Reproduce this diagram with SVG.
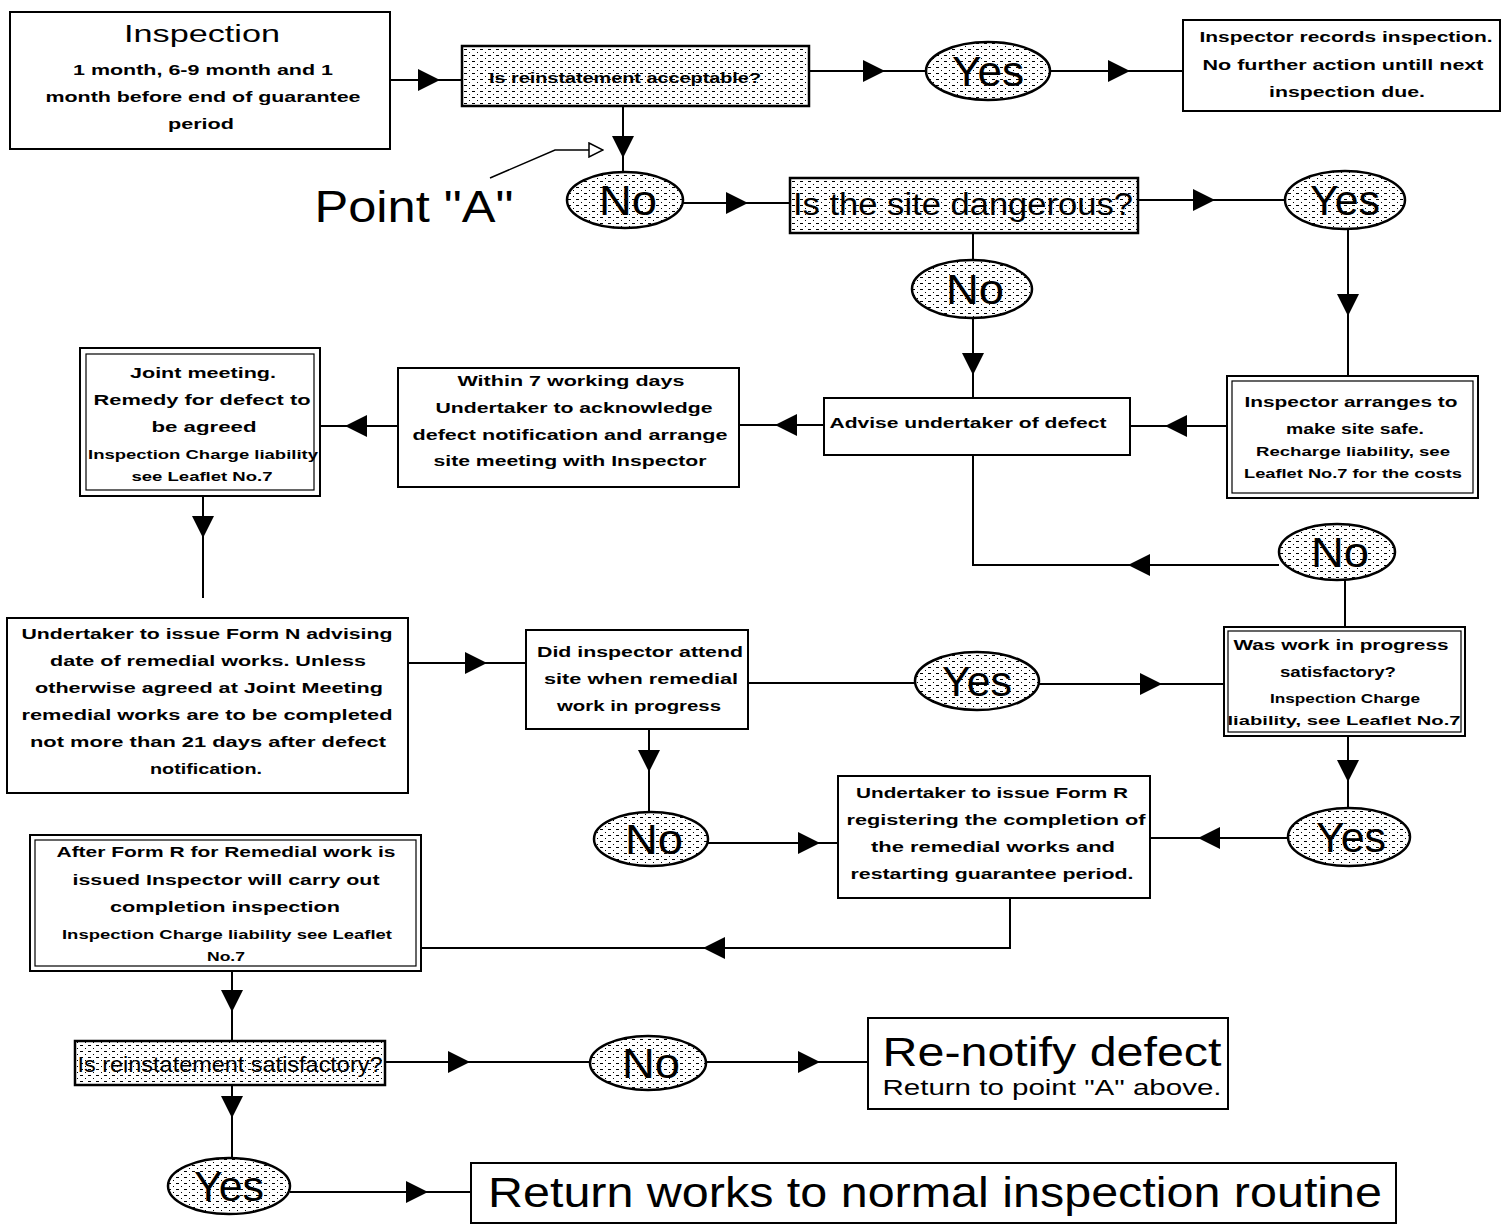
<svg xmlns="http://www.w3.org/2000/svg" width="1510" height="1226" viewBox="0 0 1510 1226">
<style>
.box{fill:#fff;stroke:#000;stroke-width:2}
.inner{fill:none;stroke:#000;stroke-width:1.2}
.dec{fill:url(#dots);stroke:#000;stroke-width:2.5}
.oval{fill:url(#dots);stroke:#000;stroke-width:2.5}
.ln{fill:none;stroke:#000;stroke-width:2}
.t{font-family:"Liberation Sans",Arial,sans-serif;font-weight:bold;font-size:15px;fill:#000;text-anchor:middle}
.s{font-family:"Liberation Sans",Arial,sans-serif;font-weight:bold;font-size:12px;fill:#000;text-anchor:middle}
.big{font-family:"Liberation Sans",Arial,sans-serif;fill:#000;text-anchor:middle}
.yn{font-family:"Liberation Sans",Arial,sans-serif;font-size:43px;fill:#000;text-anchor:middle}
</style>
<defs>
<pattern id="dots" width="8" height="6" patternUnits="userSpaceOnUse">
<rect width="8" height="6" fill="#fff"/>
<path d="M0,1.5 H3" stroke="#000" stroke-width="1"/>
<rect x="5" y="4" width="1" height="1" fill="#000"/>
</pattern>
<marker id="arr" viewBox="0 0 22 22" refX="22" refY="11" markerWidth="22" markerHeight="22" markerUnits="userSpaceOnUse" orient="auto">
<path d="M0,0 L22,11 L0,22 Z" fill="#000"/>
</marker>
<marker id="open" viewBox="0 0 16 16" refX="15" refY="8" markerWidth="16" markerHeight="16" markerUnits="userSpaceOnUse" orient="auto">
<path d="M1,1 L15,8 L1,15 Z" fill="#fff" stroke="#000" stroke-width="1.5"/>
</marker>
</defs>
<rect width="1510" height="1226" fill="#fff"/>

<g id="connectors">
<path class="ln" d="M390,80 L440,80" marker-end="url(#arr)"/><path class="ln" d="M440,80 L462,80"/>
<path class="ln" d="M809,71 L885,71" marker-end="url(#arr)"/><path class="ln" d="M885,71 L926,71"/>
<path class="ln" d="M1050,71 L1130,71" marker-end="url(#arr)"/><path class="ln" d="M1130,71 L1183,71"/>
<path class="ln" d="M623,106 L623,158" marker-end="url(#arr)"/><path class="ln" d="M623,158 L623,172"/>
<path fill="none" stroke="#000" stroke-width="1.5" d="M490,178 L555,150 L603,150" marker-end="url(#open)"/>
<path class="ln" d="M683,203 L748,203" marker-end="url(#arr)"/><path class="ln" d="M748,203 L790,203"/>
<path class="ln" d="M1138,200 L1215,200" marker-end="url(#arr)"/><path class="ln" d="M1215,200 L1285,200"/>
<path class="ln" d="M973,233 L973,260"/>
<path class="ln" d="M973,318 L973,375" marker-end="url(#arr)"/><path class="ln" d="M973,375 L973,398"/>
<path class="ln" d="M1348,230 L1348,316" marker-end="url(#arr)"/><path class="ln" d="M1348,316 L1348,376"/>
<path class="ln" d="M1227,426 L1165,426" marker-end="url(#arr)"/><path class="ln" d="M1165,426 L1130,426"/>
<path class="ln" d="M824,425 L775,425" marker-end="url(#arr)"/><path class="ln" d="M775,425 L739,425"/>
<path class="ln" d="M398,426 L345,426" marker-end="url(#arr)"/><path class="ln" d="M345,426 L320,426"/>
<path class="ln" d="M203,496 L203,538" marker-end="url(#arr)"/><path class="ln" d="M203,538 L203,598"/>
<path class="ln" d="M408,663 L487,663" marker-end="url(#arr)"/><path class="ln" d="M487,663 L526,663"/>
<path class="ln" d="M748,683 L915,683"/>
<path class="ln" d="M1039,684 L1162,684" marker-end="url(#arr)"/><path class="ln" d="M1162,684 L1224,684"/>
<path class="ln" d="M649,729 L649,772" marker-end="url(#arr)"/><path class="ln" d="M649,772 L649,812"/>
<path class="ln" d="M1345,627 L1345,580"/>
<path class="ln" d="M1279,565 L1128,565" marker-end="url(#arr)"/><path class="ln" d="M1128,565 L973,565 L973,455"/>
<path class="ln" d="M1348,736 L1348,782" marker-end="url(#arr)"/><path class="ln" d="M1348,782 L1348,808"/>
<path class="ln" d="M1288,838 L1198,838" marker-end="url(#arr)"/><path class="ln" d="M1198,838 L1150,838"/>
<path class="ln" d="M708,843 L820,843" marker-end="url(#arr)"/><path class="ln" d="M820,843 L838,843"/>
<path class="ln" d="M1010,898 L1010,948 L703,948" marker-end="url(#arr)"/><path class="ln" d="M703,948 L421,948"/>
<path class="ln" d="M232,971 L232,1012" marker-end="url(#arr)"/><path class="ln" d="M232,1012 L232,1041"/>
<path class="ln" d="M385,1062 L470,1062" marker-end="url(#arr)"/><path class="ln" d="M470,1062 L590,1062"/>
<path class="ln" d="M706,1062 L820,1062" marker-end="url(#arr)"/><path class="ln" d="M820,1062 L868,1062"/>
<path class="ln" d="M232,1085 L232,1118" marker-end="url(#arr)"/><path class="ln" d="M232,1118 L232,1158"/>
<path class="ln" d="M290,1192 L428,1192" marker-end="url(#arr)"/><path class="ln" d="M428,1192 L471,1192"/>
</g>

<g id="n-inspection">
<rect class="box" x="10" y="12" width="380" height="137"/>
<text class="big" x="202" y="42" font-size="23" textLength="156" lengthAdjust="spacingAndGlyphs">Inspection</text>
<text class="t" x="203" y="75" textLength="260" lengthAdjust="spacingAndGlyphs">1 month, 6-9 month and 1</text>
<text class="t" x="203" y="102" textLength="315" lengthAdjust="spacingAndGlyphs">month before end of guarantee</text>
<text class="t" x="201" y="129" textLength="66" lengthAdjust="spacingAndGlyphs">period</text>
</g>

<g id="n-acceptable">
<rect class="dec" x="462" y="46" width="347" height="60"/>
<text class="t" x="625" y="83" font-size="15" textLength="272" lengthAdjust="spacingAndGlyphs">Is reinstatement acceptable?</text>
</g>

<g id="n-yes1">
<ellipse class="oval" cx="988" cy="71" rx="62" ry="29"/>
<text class="yn" x="988" y="86" textLength="72" lengthAdjust="spacingAndGlyphs">Yes</text>
</g>

<g id="n-records">
<rect class="box" x="1183" y="20" width="317" height="91"/>
<text class="t" x="1346" y="42" textLength="293" lengthAdjust="spacingAndGlyphs">Inspector records inspection.</text>
<text class="t" x="1343" y="70" textLength="281" lengthAdjust="spacingAndGlyphs">No further action untill next</text>
<text class="t" x="1347" y="97" textLength="156" lengthAdjust="spacingAndGlyphs">inspection due.</text>
</g>

<g id="n-pointA">
<text class="big" x="414" y="222" font-size="44" textLength="199" lengthAdjust="spacingAndGlyphs">Point "A"</text>
</g>

<g id="n-no1">
<ellipse class="oval" cx="625" cy="200" rx="58" ry="28"/>
<text class="yn" x="628" y="215" textLength="58" lengthAdjust="spacingAndGlyphs">No</text>
</g>

<g id="n-dangerous">
<rect class="dec" x="790" y="178" width="348" height="55"/>
<text class="big" x="963" y="215" font-size="31" textLength="340" lengthAdjust="spacingAndGlyphs">Is the site dangerous?</text>
</g>

<g id="n-yes2">
<ellipse class="oval" cx="1345" cy="200" rx="60" ry="29"/>
<text class="yn" x="1345" y="215" textLength="70" lengthAdjust="spacingAndGlyphs">Yes</text>
</g>

<g id="n-no2">
<ellipse class="oval" cx="972" cy="289" rx="60" ry="29"/>
<text class="yn" x="975" y="304" textLength="58" lengthAdjust="spacingAndGlyphs">No</text>
</g>

<g id="n-advise">
<rect class="box" x="824" y="398" width="306" height="57"/>
<text class="t" x="968" y="428" textLength="277" lengthAdjust="spacingAndGlyphs">Advise undertaker of defect</text>
</g>

<g id="n-safe">
<rect class="box" x="1227" y="376" width="251" height="122"/>
<rect class="inner" x="1232" y="381" width="241" height="112"/>
<text class="t" x="1351" y="407" textLength="213" lengthAdjust="spacingAndGlyphs">Inspector arranges to</text>
<text class="t" x="1355" y="434" textLength="138" lengthAdjust="spacingAndGlyphs">make site safe.</text>
<text class="s" x="1353" y="456" textLength="194" lengthAdjust="spacingAndGlyphs">Recharge liability, see</text>
<text class="s" x="1353" y="478" textLength="218" lengthAdjust="spacingAndGlyphs">Leaflet No.7 for the costs</text>
</g>

<g id="n-within">
<rect class="box" x="398" y="368" width="341" height="119"/>
<text class="t" x="571" y="386" textLength="227" lengthAdjust="spacingAndGlyphs">Within 7 working days</text>
<text class="t" x="574" y="413" textLength="277" lengthAdjust="spacingAndGlyphs">Undertaker to acknowledge</text>
<text class="t" x="570" y="440" textLength="315" lengthAdjust="spacingAndGlyphs">defect notification and arrange</text>
<text class="t" x="570" y="466" textLength="273" lengthAdjust="spacingAndGlyphs">site meeting with Inspector</text>
</g>

<g id="n-joint">
<rect class="box" x="80" y="348" width="240" height="148"/>
<rect class="inner" x="86" y="354" width="228" height="136"/>
<text class="t" x="203" y="378" textLength="146" lengthAdjust="spacingAndGlyphs">Joint meeting.</text>
<text class="t" x="202" y="405" textLength="217" lengthAdjust="spacingAndGlyphs">Remedy for defect to</text>
<text class="t" x="204" y="432" textLength="105" lengthAdjust="spacingAndGlyphs">be agreed</text>
<text class="s" x="203" y="459" textLength="230" lengthAdjust="spacingAndGlyphs">Inspection Charge liability</text>
<text class="s" x="202" y="481" textLength="141" lengthAdjust="spacingAndGlyphs">see Leaflet No.7</text>
</g>

<g id="n-formN">
<rect class="box" x="7" y="618" width="401" height="175"/>
<text class="t" x="207" y="639" textLength="371" lengthAdjust="spacingAndGlyphs">Undertaker to issue Form N advising</text>
<text class="t" x="208" y="666" textLength="316" lengthAdjust="spacingAndGlyphs">date of remedial works. Unless</text>
<text class="t" x="209" y="693" textLength="348" lengthAdjust="spacingAndGlyphs">otherwise agreed at Joint Meeting</text>
<text class="t" x="207" y="720" textLength="371" lengthAdjust="spacingAndGlyphs">remedial works are to be completed</text>
<text class="t" x="208" y="747" textLength="356" lengthAdjust="spacingAndGlyphs">not more than 21 days after defect</text>
<text class="t" x="206" y="774" textLength="112" lengthAdjust="spacingAndGlyphs">notification.</text>
</g>

<g id="n-attend">
<rect class="box" x="526" y="630" width="222" height="99"/>
<text class="t" x="640" y="657" textLength="206" lengthAdjust="spacingAndGlyphs">Did inspector attend</text>
<text class="t" x="641" y="684" textLength="194" lengthAdjust="spacingAndGlyphs">site when remedial</text>
<text class="t" x="639" y="711" textLength="164" lengthAdjust="spacingAndGlyphs">work in progress</text>
</g>

<g id="n-yes3">
<ellipse class="oval" cx="977" cy="681" rx="62" ry="29"/>
<text class="yn" x="977" y="696" textLength="70" lengthAdjust="spacingAndGlyphs">Yes</text>
</g>

<g id="n-progress">
<rect class="box" x="1224" y="627" width="241" height="109"/>
<rect class="inner" x="1228" y="631" width="233" height="101"/>
<text class="t" x="1341" y="650" textLength="215" lengthAdjust="spacingAndGlyphs">Was work in progress</text>
<text class="t" x="1338" y="677" textLength="116" lengthAdjust="spacingAndGlyphs">satisfactory?</text>
<text class="s" x="1345" y="703" textLength="150" lengthAdjust="spacingAndGlyphs">Inspection Charge</text>
<text class="s" x="1344" y="725" textLength="233" lengthAdjust="spacingAndGlyphs">liability, see Leaflet No.7</text>
</g>

<g id="n-no3">
<ellipse class="oval" cx="1337" cy="552" rx="58" ry="28"/>
<text class="yn" x="1340" y="567" textLength="58" lengthAdjust="spacingAndGlyphs">No</text>
</g>

<g id="n-yes4">
<ellipse class="oval" cx="1349" cy="837" rx="61" ry="29"/>
<text class="yn" x="1351" y="852" textLength="70" lengthAdjust="spacingAndGlyphs">Yes</text>
</g>

<g id="n-no4">
<ellipse class="oval" cx="651" cy="839" rx="57" ry="27"/>
<text class="yn" x="654" y="854" textLength="58" lengthAdjust="spacingAndGlyphs">No</text>
</g>

<g id="n-formR">
<rect class="box" x="838" y="776" width="312" height="122"/>
<text class="t" x="992" y="798" textLength="272" lengthAdjust="spacingAndGlyphs">Undertaker to issue Form R</text>
<text class="t" x="996" y="825" textLength="299" lengthAdjust="spacingAndGlyphs">registering the completion of</text>
<text class="t" x="993" y="852" textLength="244" lengthAdjust="spacingAndGlyphs">the remedial works and</text>
<text class="t" x="992" y="879" textLength="283" lengthAdjust="spacingAndGlyphs">restarting guarantee period.</text>
</g>

<g id="n-completion">
<rect class="box" x="30" y="835" width="391" height="136"/>
<rect class="inner" x="35" y="840" width="381" height="126"/>
<text class="t" x="226" y="857" textLength="339" lengthAdjust="spacingAndGlyphs">After Form R for Remedial work is</text>
<text class="t" x="226" y="885" textLength="307" lengthAdjust="spacingAndGlyphs">issued Inspector will carry out</text>
<text class="t" x="225" y="912" textLength="230" lengthAdjust="spacingAndGlyphs">completion inspection</text>
<text class="s" x="227" y="939" textLength="330" lengthAdjust="spacingAndGlyphs">Inspection Charge liability see Leaflet</text>
<text class="s" x="226" y="961" textLength="38" lengthAdjust="spacingAndGlyphs">No.7</text>
</g>

<g id="n-satisfactory">
<rect class="dec" x="75" y="1041" width="310" height="44"/>
<text class="big" x="230" y="1072" font-size="22" textLength="305" lengthAdjust="spacingAndGlyphs">Is reinstatement satisfactory?</text>
</g>

<g id="n-no5">
<ellipse class="oval" cx="648" cy="1063" rx="58" ry="27"/>
<text class="yn" x="651" y="1078" textLength="58" lengthAdjust="spacingAndGlyphs">No</text>
</g>

<g id="n-renotify">
<rect class="box" x="868" y="1018" width="360" height="91"/>
<text class="big" x="1052" y="1066" font-size="40" textLength="339" lengthAdjust="spacingAndGlyphs">Re-notify defect</text>
<text class="big" x="1052" y="1095" font-size="22" textLength="339" lengthAdjust="spacingAndGlyphs">Return to point "A" above.</text>
</g>

<g id="n-yes5">
<ellipse class="oval" cx="229" cy="1186" rx="61" ry="28"/>
<text class="yn" x="229" y="1201" textLength="70" lengthAdjust="spacingAndGlyphs">Yes</text>
</g>

<g id="n-return">
<rect class="box" x="471" y="1163" width="925" height="60"/>
<text class="big" x="935" y="1207" font-size="42" textLength="894" lengthAdjust="spacingAndGlyphs">Return works to normal inspection routine</text>
</g>
</svg>
